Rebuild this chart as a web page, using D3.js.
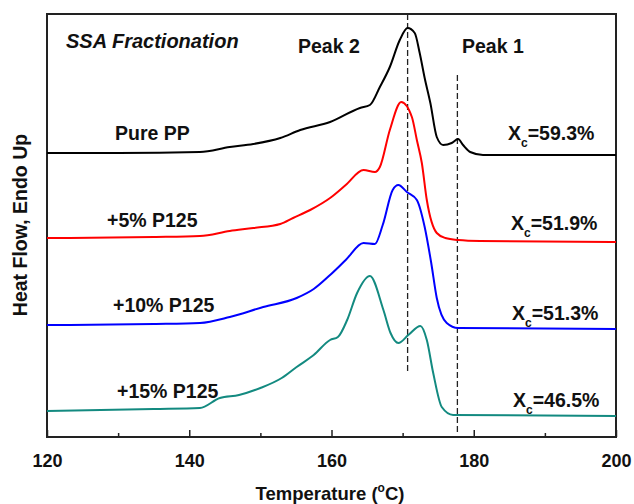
<!DOCTYPE html>
<html><head><meta charset="utf-8">
<script src="https://cdn.jsdelivr.net/npm/d3@7"></script>
<style>
body{margin:0;background:#fff;}
text{font-family:"Liberation Sans",Arial,sans-serif;font-weight:bold;fill:#111;}
</style></head>
<body><svg id="c" width="634" height="504"></svg>
<script>
// ---- data (arbitrary heat-flow units) ----
const xTicks = [120, 140, 160, 180, 200];
const xMinorTicks = [130, 150, 170, 190];
const seriesNames = ["Pure PP", "+5% P125", "+10% P125", "+15% P125"];
const seriesColors = ["#000000", "#ff0000", "#0000ff", "#138a80"];
const xcLabels = ["59.3%", "51.9%", "51.3%", "46.5%"];
const peakLines = [170.7, 177.7];

const purePP = [[120,28.4],[130,28.4],[141.5,28.5],[145.7,29.0],[149,29.3],[152.8,29.9],[155.6,30.7],[159.8,31.5],[164,32.9],[165.4,33.2],[166.8,35.0],[168.2,37.0],[169.6,39.7],[170.7,40.9],[171.7,40.4],[172.4,38.4],[173.1,35.9],[173.9,33.4],[174.8,30.0],[175.7,29.2],[176.9,29.4],[177.8,29.8],[178.5,29.2],[179.5,28.5],[181.3,28.2],[190,28.2],[200,28.2]];
const p5 = [[120,19.9],[135,20.0],[141.5,20.1],[145.7,20.6],[149,20.9],[152.8,21.3],[154.6,21.9],[157,22.7],[159.8,23.9],[162,25.2],[164.5,26.7],[166.1,26.5],[166.8,27.0],[168.2,30.7],[169.8,33.5],[171.3,32.0],[172,29.7],[172.7,27.4],[173.4,23.7],[174.8,20.4],[176,19.9],[177.8,19.7],[180.9,19.6],[200,19.5]];
const p10 = [[120,11.2],[135,11.3],[141.5,11.4],[145.7,12.0],[150.4,13.0],[155.1,13.9],[157.5,14.8],[159.8,16.2],[162,17.7],[164.5,19.4],[166.1,19.3],[167.2,21.2],[168.6,24.7],[169.4,25.2],[170.6,24.5],[172,23.7],[173.1,21.0],[174,17.5],[174.8,13.9],[176.2,11.4],[177.8,10.9],[200,10.8]];
const p15 = [[120,2.6],[135,2.8],[141.5,2.9],[144.3,3.9],[147,4.2],[150,4.9],[153,5.9],[155.1,7.0],[157.5,8.2],[159.8,9.7],[160.9,10.0],[162.2,11.7],[163.6,14.4],[165.4,16.1],[167.3,12.7],[168.3,10.4],[169.4,9.4],[170.8,10.2],[172.5,11.1],[173.4,9.7],[174.3,6.4],[175.5,3.0],[177.1,2.2],[200,2.1]];
const allSeries = [purePP, p5, p10, p15];

// ---- layout ----
const svg = d3.select("#c");
const L = 47, R = 616, T = 14, B = 437;
const x = d3.scaleLinear().domain([120, 200]).range([L, R]);
const y = d3.scaleLinear().domain([0, 42.3]).range([B, T]);

// frame
svg.append("rect").attr("x", L).attr("y", T).attr("width", R - L).attr("height", B - T)
  .attr("fill", "none").attr("stroke", "#222").attr("stroke-width", 2);

// bottom axis with inward ticks
const gx = svg.append("g").attr("transform", `translate(0,${B})`)
  .call(d3.axisBottom(x).tickValues(xTicks).tickSize(-7).tickPadding(17).tickFormat(d3.format("d")));
gx.select(".domain").remove();
gx.selectAll(".tick line").attr("stroke", "#222").attr("stroke-width", 1.5);
gx.selectAll(".tick text").style("font-size", "18px").attr("fill", "#111");
const gxm = svg.append("g").attr("transform", `translate(0,${B})`)
  .call(d3.axisBottom(x).tickValues(xMinorTicks).tickSize(-4).tickFormat(""));
gxm.select(".domain").remove();
gxm.selectAll(".tick line").attr("stroke", "#222").attr("stroke-width", 1.5);

// dashed reference lines
svg.append("line").attr("x1", x(peakLines[0])).attr("x2", x(peakLines[0]))
  .attr("y1", T).attr("y2", 373).attr("stroke", "#222").attr("stroke-width", 1.3).attr("stroke-dasharray", "6,3");
svg.append("line").attr("x1", x(peakLines[1])).attr("x2", x(peakLines[1]))
  .attr("y1", 75).attr("y2", 432).attr("stroke", "#222").attr("stroke-width", 1.3).attr("stroke-dasharray", "6,3");

// curves
const line = d3.line().x(d => x(d[0])).y(d => y(d[1])).curve(d3.curveMonotoneX);
allSeries.forEach((s, i) => {
  svg.append("path").datum(s).attr("d", line).attr("fill", "none")
    .attr("stroke", seriesColors[i]).attr("stroke-width", 2);
});

// labels
const FS = "19.5px";
svg.append("text").attr("x", 66).attr("y", 48).style("font-size", "20px").style("font-style", "italic").text("SSA Fractionation");
svg.append("text").attr("x", 298).attr("y", 53).style("font-size", FS).text("Peak 2");
svg.append("text").attr("x", 462).attr("y", 53).style("font-size", FS).text("Peak 1");

const nameX = [115, 107, 113, 117], nameY = [140, 227, 312, 398];
seriesNames.forEach((n, i) => {
  svg.append("text").attr("x", nameX[i]).attr("y", nameY[i]).style("font-size", FS).text(n);
});
const xcX = [508, 511, 512, 513], xcY = [140, 230, 320, 407];
xcLabels.forEach((v, i) => {
  const t = svg.append("text").attr("x", xcX[i]).attr("y", xcY[i]).style("font-size", FS);
  t.append("tspan").text("X");
  t.append("tspan").attr("dy", 7).style("font-size", "12px").text("c");
  t.append("tspan").attr("dy", -7).text("=" + v);
});

// axis titles
const xt = svg.append("text").attr("x", 330).attr("y", 500).attr("text-anchor", "middle").style("font-size", "18.5px");
xt.append("tspan").text("Temperature (");
xt.append("tspan").attr("dy", -8).style("font-size", "12px").text("o");
xt.append("tspan").attr("dy", 8).text("C)");
svg.append("text").attr("transform", "translate(27,225) rotate(-90)").attr("text-anchor", "middle")
  .style("font-size", "19.5px").text("Heat Flow, Endo Up");
</script></body></html>
